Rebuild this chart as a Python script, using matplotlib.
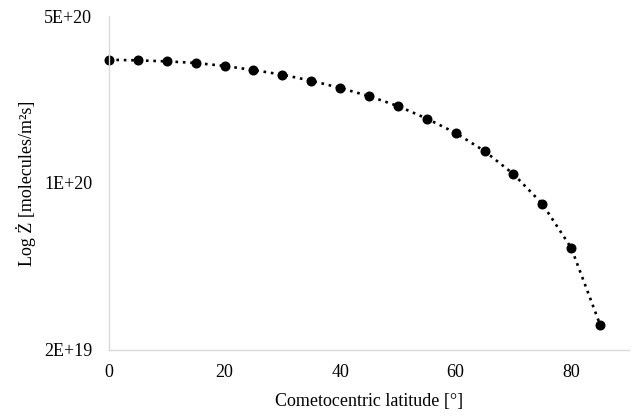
import matplotlib
matplotlib.use("Agg")
import matplotlib.pyplot as plt
from matplotlib.ticker import FixedLocator, FixedFormatter, NullLocator

latitude = [0, 5, 10, 15, 20, 25, 30, 35, 40, 45, 50, 55, 60, 65, 70, 75, 80, 85]
production = [3.28e20, 3.26e20, 3.23e20, 3.18e20, 3.09e20, 2.97e20, 2.84e20, 2.68e20,
              2.50e20, 2.31e20, 2.10e20, 1.86e20, 1.62e20, 1.36e20, 1.09e20, 8.18e19,
              5.35e19, 2.55e19]
y_ticks = [2e19, 1e20, 5e20]
y_tick_labels = ["2E+19", "1E+20", "5E+20"]
x_ticks = [0, 20, 40, 60, 80]

plt.rcParams['font.family'] = ['Liberation Serif', 'DejaVu Serif']

fig = plt.figure(figsize=(6.33, 4.19), dpi=100)
ax = fig.add_axes([0.1722, 0.1647, 0.8215, 0.7971])

ax.plot(latitude, production, color='black', linestyle=(0, (1, 1.8)), linewidth=1.9,
        marker='o', markersize=6.2, markerfacecolor='black', markeredgecolor='black',
        clip_on=False)

ax.set_yscale('log')
ax.set_ylim(2e19, 5e20)
ax.set_xlim(0, 90)
ax.yaxis.set_major_locator(FixedLocator(y_ticks))
ax.yaxis.set_major_formatter(FixedFormatter(y_tick_labels))
ax.yaxis.set_minor_locator(NullLocator())
ax.set_xticks(x_ticks)

for s in ['top', 'right']:
    ax.spines[s].set_visible(False)
for s in ['left', 'bottom']:
    ax.spines[s].set_color('#d9d9d9')
    ax.spines[s].set_linewidth(1.0)

ax.tick_params(axis='both', length=0, labelsize=13, colors='black')
ax.tick_params(axis='x', pad=10)
ax.tick_params(axis='y', pad=12)

ax.set_xlabel('Cometocentric latitude [°]', fontsize=13, labelpad=9)
ax.set_ylabel('Log Ż [molecules/m²s]', fontsize=13, labelpad=6)

fig.savefig('out.png', dpi=100)
